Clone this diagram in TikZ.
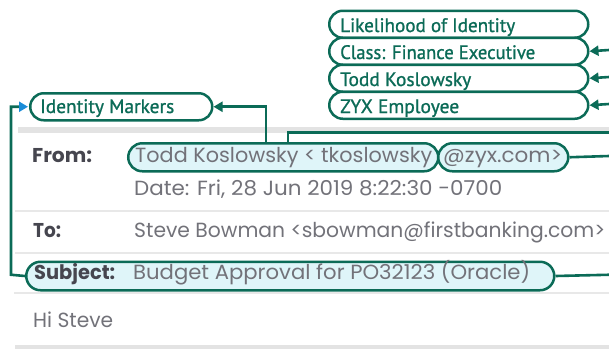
\documentclass[tikz,border=0pt]{standalone}
\usepackage{fontspec}
\usepackage{graphicx}
\setmainfont{Poppins}
\newfontfamily\lblfont[FakeBold=1]{PT Sans}
\usetikzlibrary{arrows.meta,calc}
\definecolor{grn}{HTML}{0B6B57}
\definecolor{pillfill}{HTML}{DFF5F9}
\definecolor{band}{HTML}{E3E3E3}
\definecolor{sepc}{HTML}{E8E8E8}
\definecolor{txt}{HTML}{727279}
\definecolor{hdr}{HTML}{46464F}
\definecolor{blu}{HTML}{1A8CD8}
\newcommand\fitw[2]{\resizebox{#1}{\height}{#2}}
\begin{document}
\begin{tikzpicture}[x=1pt,y=-1pt,
  lpill/.style={draw=grn, line width=2.5pt, rounded corners=13.5pt, minimum height=27pt, inner sep=0pt, anchor=north west, fill=white},
  epill/.style={draw=grn, line width=2.5pt, rounded corners=14pt, minimum height=28pt, inner sep=0pt, anchor=north west, fill=pillfill},
  lbl/.style={anchor=base west, inner sep=0pt, text=grn, font=\lblfont\fontsize{19.5}{23}\selectfont},
  etxt/.style={anchor=base west, inner sep=0pt, text=txt, font=\fontsize{20.5}{24}\selectfont},
  ehdr/.style={anchor=base west, inner sep=0pt, text=hdr, font=\bfseries\fontsize{20}{24}\selectfont},
  conn/.style={draw=grn, line width=2.6pt},
  arr/.style={conn, -{Triangle[length=9pt,width=10pt]}},
  barr/.style={conn, -{Triangle[length=9pt,width=10pt,color=blu]}, shorten >=1pt},
  seprule/.style={draw=sepc, line width=2.5pt}
]
\path[use as bounding box] (0,0) rectangle (609,349);

% email background rules
\fill[band] (18,127) rectangle (609,132.5);
\draw[seprule] (15,211) -- (609,211);
\draw[seprule] (15,253) -- (609,253);
\draw[seprule] (14,293) -- (609,293);
\fill[band] (15,344.5) rectangle (609,349);

% label pills
\node[lpill, minimum width=259pt] (lik) at (328,9.5) {};
\node[lpill, minimum width=259pt] (cls) at (328,36.5) {};
\node[lpill, minimum width=259pt] (tod) at (328,63.5) {};
\node[lpill, minimum width=259pt] (zyx) at (328,90.5) {};
\node[lbl] (likT) at (340,32) {\fitw{175pt}{Likelihood of Identity}};
\node[lbl] (clsT) at (340,59) {\fitw{195pt}{Class: Finance Executive}};
\node[lbl] (todT) at (340,86) {\fitw{131pt}{Todd Koslowsky}};
\node[lbl] (zyxT) at (340,113) {\fitw{119pt}{ZYX Employee}};

\node[lpill, minimum width=182pt] (im) at (29,92) {};
\node[lbl] (imT) at (40,113) {\fitw{134pt}{Identity Markers}};

% email pills
\node[epill, minimum width=310pt] (name) at (127,142) {};
\node[epill, minimum width=130pt] (dom) at (437,142) {};
\node[epill, minimum width=528pt, minimum height=28.5pt, rounded corners=14.25pt] (subj) at (25,260.5) {};

% email texts
\node[ehdr] (from) at (32,162.5) {\fitw{60pt}{From:}};
\node[etxt] (nameT) at (135,162.5) {\fitw{297pt}{Todd Koslowsky < tkoslowsky}};
\node[etxt] (domT) at (443,162.5) {\fitw{119pt}{@zyx.com>}};
\node[etxt] (date) at (134,195.5) {\fitw{368pt}{Date: Fri, 28 Jun 2019 8:22:30 -0700}};
\node[ehdr] (to) at (33,237.5) {\fitw{28pt}{To:}};
\node[etxt] (toT) at (134,237.5) {\fitw{471pt}{Steve Bowman <sbowman@firstbanking.com>}};
\node[ehdr] (subjL) at (34,279.5) {\fitw{81pt}{Subject:}};
\node[etxt] (subjT) at (133,279.5) {\fitw{397pt}{Budget Approval for PO32123 (Oracle)}};
\node[etxt] (hi) at (33,327.5) {\fitw{80pt}{Hi Steve}};

% free ends at the right edge
\coordinate (r1) at (609,50);
\coordinate (r2) at (609,77);
\coordinate (r3) at (609,104);
\coordinate (e1) at (609,132.5);
\coordinate (e2) at (609,156);
\coordinate (e3) at (609,274.75);
\coordinate (lc) at (11,274.75);

% connectors
\draw[arr] (r1) -- (cls.east);
\draw[arr] (r2) -- (tod.east);
\draw[arr] (r3) -- (zyx.east);
\draw[arr] ([xshift=139pt]name.north west) |- (im.east);
\draw[conn] ([xshift=161pt]name.north west) |- (e1);
\draw[conn] (dom.east) -- (e2);
\draw[conn] (subj.east) -- (e3);
\draw[barr] (subj.west) -- (lc) |- (im.west);
\end{tikzpicture}
\end{document}
